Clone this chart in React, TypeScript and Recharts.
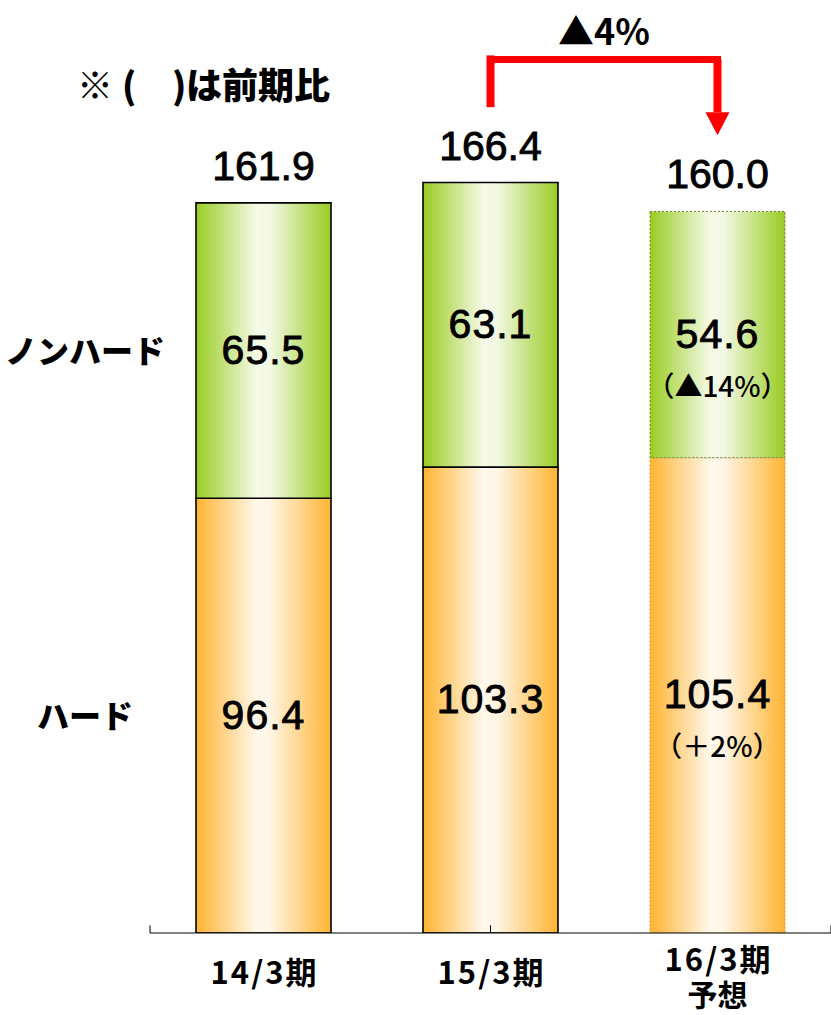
import React from 'react';
import { BarChart, Bar, XAxis, YAxis, Cell, LabelList, ReferenceLine, ReferenceDot, Customized } from 'recharts';

const categories = ['14/3期', '15/3期', '16/3期'];
const categorySubLabels = ['', '', '予想'];
const hard = [96.4, 103.3, 105.4];
const nonHard = [65.5, 63.1, 54.6];
const totals = [161.9, 166.4, 160.0];
const hardNotes = ['', '', '（＋2%）'];
const nonHardNotes = ['', '', '（▲14%）'];
const forecast = [false, false, true];
const seriesNames = ['ハード', 'ノンハード'];
const changeLabel = '▲4%';
const titleParts = ['※', '(', ')', 'は前期比'];
const arrowLevels = { fromTop: 184.0, bar: 193.7, headBase: 182.0 };
const boundaryTicks = [0, 1, 2, 3];

const data = categories.map((c, i) => ({
  cat: c,
  hard: hard[i],
  nonHard: nonHard[i],
  total: totals[i],
}));

const JP = '"Noto Sans CJK JP", sans-serif';
const NUM = '"Liberation Sans", Arial, sans-serif';

const makeSegLabel = (notes: string[]) => (props: any) => {
  const { x, y, width, height, value, index } = props;
  const cx = x + width / 2;
  const cy = y + height / 2;
  const note = notes[index];
  return (
    <g>
      <text x={cx} y={cy + 13} textAnchor="middle" fontFamily={NUM} fontSize={41} letterSpacing={1} fill="#000" stroke="#000" strokeWidth={0.9}>
        {Number(value).toFixed(1)}
      </text>
      {note ? (
        <text x={cx} y={cy + 62} textAnchor="middle" fontFamily={JP} fontWeight={500} fontSize={28} fill="#000">
          {note}
        </text>
      ) : null}
    </g>
  );
};

const TotalLabel = (props: any) => {
  const { x, y, width, index } = props;
  return (
    <text x={x + width / 2} y={y - 23} textAnchor="middle" fontFamily={NUM} fontSize={41} fill="#000" stroke="#000" strokeWidth={0.9}>
      {totals[index].toFixed(1)}
    </text>
  );
};

const XTick = (props: any) => {
  const { x, y, payload, index } = props;
  const sub = categorySubLabels[index];
  return (
    <g>
      <text x={x + 1} y={sub ? y + 38 : y + 51} textAnchor="middle" fontFamily={JP} fontWeight={700} fontSize={31} letterSpacing={2} fill="#000">
        {payload.value}
      </text>
      {sub ? (
        <text x={x} y={y + 73} textAnchor="middle" fontFamily={JP} fontWeight={700} fontSize={30} fill="#000">
          {sub}
        </text>
      ) : null}
    </g>
  );
};

const yTickValues = [hard[0] / 2, hard[0] + nonHard[0] / 2];
const YTick = (props: any) => {
  const { x, y, index } = props;
  return (
    <text x={x - 65} y={y + 12} textAnchor="middle" fontFamily={JP} fontWeight={900} fontSize={32} fill="#000">
      {seriesNames[index]}
    </text>
  );
};

const Title = () => (
  <text y={99} fontFamily={JP} fontWeight={900} fontSize={36} fill="#000">
    <tspan x={77}>{titleParts[0]}</tspan>
    <tspan x={122}>{titleParts[1]}</tspan>
    <tspan x={172}>{titleParts[2]}</tspan>
    <tspan x={186}>{titleParts[3]}</tspan>
  </text>
);

const Arrowhead = (props: any) => {
  const { cx, cy } = props;
  return <polygon points={`${cx - 12},${cy} ${cx + 12},${cy} ${cx},${cy + 23}`} fill="#FF0000" />;
};

export default function App() {
  return (
    <div style={{ position: 'absolute', left: 0, top: 0, width: 831, height: 1015, background: '#fff' }}>
      <BarChart width={831} height={1015} data={data} margin={{ top: 31, right: 0, bottom: 0, left: 0 }} barCategoryGap={0}>
        <defs>
          <linearGradient id="gOrange" x1="0" y1="0" x2="1" y2="0">
            <stop offset="0%" stopColor="#FFB432" />
            <stop offset="45%" stopColor="#FFF8EC" />
            <stop offset="55%" stopColor="#FFF5E4" />
            <stop offset="100%" stopColor="#FFB432" />
          </linearGradient>
          <linearGradient id="gGreen" x1="0" y1="0" x2="1" y2="0">
            <stop offset="0%" stopColor="#99CC22" />
            <stop offset="45%" stopColor="#F6FAE8" />
            <stop offset="55%" stopColor="#F2F8E2" />
            <stop offset="100%" stopColor="#99CC22" />
          </linearGradient>
        </defs>
        <XAxis dataKey="cat" height={82} axisLine={{ stroke: '#000', strokeWidth: 1 }} tickLine={false} tickSize={0} tickMargin={0} tick={<XTick />} interval={0} />
        <XAxis xAxisId="grid" type="number" domain={[0, 3]} hide />
        <YAxis width={150} domain={[0, 200]} allowDataOverflow ticks={yTickValues} axisLine={false} tickLine={false} tickSize={0} tickMargin={0} tick={<YTick />} />
        <Bar dataKey="hard" stackId="s" barSize={135} fill="url(#gOrange)" isAnimationActive={false}>
          {data.map((d, i) => (
            <Cell key={i} fill="url(#gOrange)" stroke={forecast[i] ? '#C9962E' : '#000'} strokeWidth={forecast[i] ? 1 : 1.6} strokeDasharray={forecast[i] ? '2 2' : undefined} />
          ))}
          <LabelList dataKey="hard" content={makeSegLabel(hardNotes)} />
        </Bar>
        <Bar dataKey="nonHard" stackId="s" barSize={135} fill="url(#gGreen)" isAnimationActive={false}>
          {data.map((d, i) => (
            <Cell key={i} fill="url(#gGreen)" stroke={forecast[i] ? '#6E7F40' : '#000'} strokeWidth={forecast[i] ? 1 : 1.6} strokeDasharray={forecast[i] ? '2 2' : undefined} />
          ))}
          <LabelList dataKey="nonHard" content={makeSegLabel(nonHardNotes)} />
          <LabelList dataKey="total" content={<TotalLabel />} />
        </Bar>
        {boundaryTicks.map((t) => (
          <ReferenceLine key={t} xAxisId="grid" segment={[{ x: t, y: 0 }, { x: t, y: 1.7 }]} stroke="#000" strokeWidth={1} ifOverflow="visible" />
        ))}
        <ReferenceLine segment={[{ x: categories[1], y: arrowLevels.fromTop }, { x: categories[1], y: arrowLevels.bar }]} stroke="#FF0000" strokeWidth={8} strokeLinecap="square" ifOverflow="visible" />
        <ReferenceLine
          segment={[{ x: categories[1], y: arrowLevels.bar }, { x: categories[2], y: arrowLevels.bar }]}
          stroke="#FF0000"
          strokeWidth={7}
          strokeLinecap="square"
          ifOverflow="visible"
          label={{ value: changeLabel, position: 'top', offset: 14, fill: '#000', fontSize: 36, fontWeight: 'bold', fontFamily: JP }}
        />
        <ReferenceLine segment={[{ x: categories[2], y: arrowLevels.bar }, { x: categories[2], y: arrowLevels.headBase }]} stroke="#FF0000" strokeWidth={8} ifOverflow="visible" />
        <ReferenceDot x={categories[2]} y={arrowLevels.headBase} r={1} shape={<Arrowhead />} ifOverflow="visible" />
        <Customized component={<Title />} />
      </BarChart>
    </div>
  );
}
